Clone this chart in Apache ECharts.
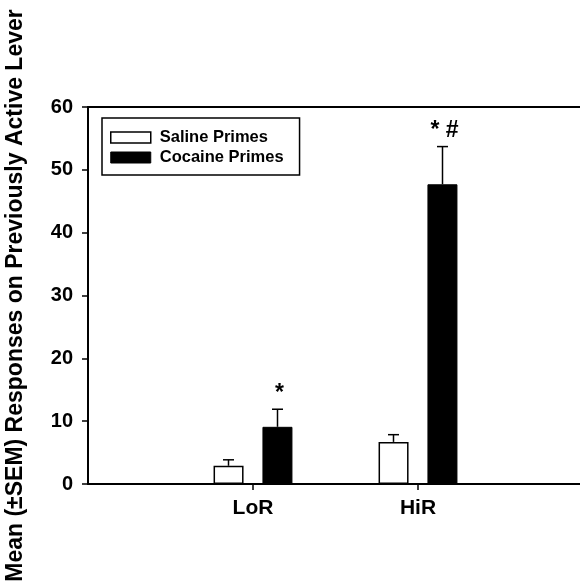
<!DOCTYPE html>
<html><head><meta charset="utf-8">
<script src="https://cdn.jsdelivr.net/npm/echarts@6/dist/echarts.min.js"></script>
<style>html,body{margin:0;padding:0;background:#fff}#c{width:580px;height:586px}</style>
</head><body><div id="c"></div>
<script>
var categories = ['', 'LoR', 'HiR', ''];
var salineMean = [null, 2.9, 6.7, null];
var salineSEM = [null, 0.95, 1.15, null];
var cocaineMean = [null, 9.1, 47.7, null];
var cocaineSEM = [null, 2.8, 6.0, null];
var salineMarks = ['', '', '', ''];
var cocaineMarks = ['', '*', '* #', ''];
var yTicks = [0, 10, 20, 30, 40, 50, 60];

var FONT = 'Liberation Sans, Arial, sans-serif';
var BARW = 30, OFFSET = 24.5;

function errData(mean, sem, marks) {
  var out = [];
  for (var i = 0; i < mean.length; i++) {
    if (mean[i] != null) out.push([i, mean[i], mean[i] + sem[i], marks[i]]);
  }
  return out;
}
function errRender(dir) {
  return function (params, api) {
    var i = api.value(0);
    var base = api.coord([i, api.value(1)]);
    var top = api.coord([i, api.value(2)]);
    var x = base[0] + dir * OFFSET;
    var kids = [
      {type: 'line', shape: {x1: x, y1: base[1], x2: x, y2: top[1]}, style: {stroke: '#000', lineWidth: 1.5}},
      {type: 'line', shape: {x1: x - 5.5, y1: top[1], x2: x + 5.5, y2: top[1]}, style: {stroke: '#000', lineWidth: 1.5}}
    ];
    var mark = api.value(3);
    if (mark) {
      kids.push({type: 'text', x: x + 2, y: top[1] - 4, style: {text: mark, fill: '#000', font: 'bold 23px ' + FONT, textAlign: 'center', textVerticalAlign: 'bottom'}});
    }
    return {type: 'group', children: kids};
  };
}

var chart = echarts.init(document.getElementById('c'));
chart.setOption({
  animation: false,
  backgroundColor: '#fff',
  grid: {left: 88, right: -3, top: 107, bottom: 102, containLabel: false, outerBoundsMode: 'none'},
  legend: {
    orient: 'vertical', left: 102, top: 118,
    padding: [11, 16, 9, 8], itemGap: 3,
    borderColor: '#000', borderWidth: 1.5, borderRadius: 0,
    itemWidth: 40, itemHeight: 11,
    textStyle: {fontFamily: FONT, fontWeight: 'bold', fontSize: 16.5, color: '#000', padding: [0, 0, 0, 4]},
    data: [
      {name: 'Saline Primes', icon: 'rect', itemStyle: {color: '#fff', borderColor: '#000', borderWidth: 1.5}},
      {name: 'Cocaine Primes', icon: 'rect', itemStyle: {color: '#000', borderColor: '#000', borderWidth: 1}}
    ]
  },
  xAxis: [{
    type: 'category', data: categories, boundaryGap: false,
    axisLine: {lineStyle: {color: '#000', width: 2}},
    axisTick: {interval: function (i) { return i === 1 || i === 2; }, length: 6, lineStyle: {color: '#000', width: 1.5}},
    axisLabel: {interval: 0, margin: 14, fontFamily: FONT, fontWeight: 'bold', fontSize: 21, color: '#000'}
  }, {
    type: 'category', data: categories, position: 'top', boundaryGap: false,
    axisLine: {lineStyle: {color: '#000', width: 2}},
    axisTick: {show: false}, axisLabel: {show: false}
  }],
  yAxis: {
    type: 'value', min: 0, max: 60, interval: 10,
    name: 'Mean (\u00b1SEM) Responses on Previously Active Lever',
    nameLocation: 'middle', nameGap: 61,
    nameTextStyle: {fontFamily: FONT, fontWeight: 'bold', fontSize: 23, color: '#000'},
    axisLine: {show: true, lineStyle: {color: '#000', width: 2}},
    axisTick: {show: true, length: 6, lineStyle: {color: '#000', width: 1.5}},
    axisLabel: {margin: 15, fontFamily: FONT, fontWeight: 'bold', fontSize: 20, color: '#000',
      formatter: function (v) { return yTicks.indexOf(v) >= 0 ? String(v) : ''; }},
    splitLine: {show: false}
  },
  series: [
    {name: 'Saline Primes', type: 'bar', data: salineMean, barWidth: BARW, barGap: '63%',
      itemStyle: {color: '#fff', borderColor: '#000', borderWidth: 1.5}},
    {name: 'Cocaine Primes', type: 'bar', data: cocaineMean, barWidth: BARW, barGap: '63%',
      itemStyle: {color: '#000', borderColor: '#000', borderWidth: 1}},
    {type: 'custom', renderItem: errRender(-1), data: errData(salineMean, salineSEM, salineMarks), z: 1, silent: true},
    {type: 'custom', renderItem: errRender(1), data: errData(cocaineMean, cocaineSEM, cocaineMarks), z: 1, silent: true}
  ]
});
</script></body></html>
